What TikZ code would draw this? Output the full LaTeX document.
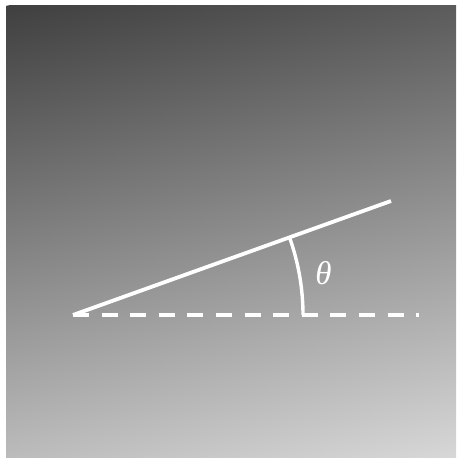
\documentclass[tikz,border=0pt]{standalone}
\usepackage{fontspec}
\newfontfamily\thetafont{Liberation Serif}
\definecolor{bgdark}{gray}{0.250}
\definecolor{bglight}{gray}{0.845}
\tikzset{
  rayline/.style={white, line width=3.8pt, line cap=butt},
  baseline/.style={white, line width=3.4pt, dash pattern=on 16pt off 12.6pt},
  anglearc/.style={white, line width=3.4pt},
  anglelabel/.style={white, inner sep=0pt, font=\thetafont\itshape\fontsize{33}{40}\selectfont}
}
\begin{document}
\begin{tikzpicture}[x=1pt,y=1pt]
  \useasboundingbox (0,0) rectangle (456,458);
  \begin{scope}
    \clip (6,0) rectangle (456,452);
    \shade[transform canvas={shift={(231,226)}, rotate=12.7},
           top color=bgdark, bottom color=bglight]
      (-420,-270) rectangle (420,270);
  \end{scope}
  \coordinate (O) at (73,143);
  \coordinate (E) at (391,257);
  \coordinate (D) at (419,143);
  \draw[baseline] (O) -- (D);
  \draw[rayline] (O) -- (E);
  \draw[anglearc] ([xshift=230pt]O) arc[start angle=0, end angle=19.72, radius=230pt];
  \node[anglelabel] (theta) at (323.5,184.5) {θ};
\end{tikzpicture}
\end{document}
